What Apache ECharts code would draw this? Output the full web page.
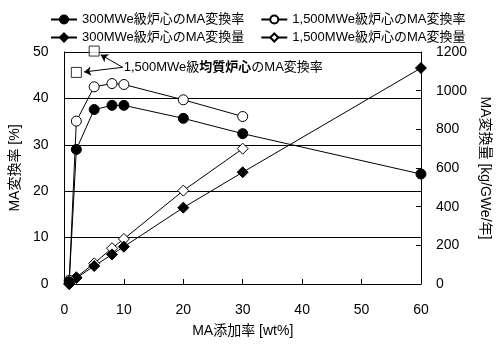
<!DOCTYPE html>
<html><head><meta charset="utf-8">
<script src="https://cdn.jsdelivr.net/npm/echarts@6/dist/echarts.min.js"></script>
<style>html,body{margin:0;padding:0;background:#fff}#c{width:500px;height:345px}</style>
</head><body><div id="c"></div>
<script>
const FONT = "Liberation Sans, Arial, 'Noto Sans CJK JP', sans-serif";
const xTicks = [0, 10, 20, 30, 40, 50, 60];
const names = ["300MWe級炉心のMA変換率", "1,500MWe級炉心のMA変換率", "300MWe級炉心のMA変換量", "1,500MWe級炉心のMA変換量"];
const x300 = [0.8, 2, 5, 8, 10, 20, 30, 60];
const rate300 = [0.5, 29, 37.6, 38.5, 38.5, 35.7, 32.4, 23.7];
const x1500 = [0.8, 2, 5, 8, 10, 20, 30];
const rate1500 = [0.8, 35.1, 42.5, 43.2, 43.0, 39.7, 36.1];
const amount300 = [0, 31, 93, 153, 193, 395, 578, 1117];
const amount1500 = [0, 35, 107, 185, 233, 483, 700];
const xUniform = [2, 5];
const rateUniform = [45.6, 50.2];
const annotText = ["1,500MWe級", "均質炉心", "のMA変換率"];
const annotAnchor = [9.8, 46.7];
const arrowEnds = [[6.1, 49.4], [3.3, 45.7]];

const pair = (xs, ys) => xs.map((x, i) => [x, ys[i]]);
const filled = { color: '#000', borderColor: '#000', borderWidth: 1 };
const open = { color: '#fff', borderColor: '#000', borderWidth: 1 };
const line = { color: '#000', width: 1 };

const chart = echarts.init(document.getElementById('c'));
chart.setOption({
  animation: false,
  textStyle: { fontFamily: FONT },
  legend: [
    { data: [names[0], names[1]], top: 8, left: 45, itemWidth: 26, itemHeight: 10, itemGap: 16,
      textStyle: { fontSize: 13, color: '#000', fontFamily: FONT } },
    { data: [names[2], names[3]], top: 26, left: 45, itemWidth: 26, itemHeight: 10, itemGap: 16,
      textStyle: { fontSize: 13, color: '#000', fontFamily: FONT } }
  ],
  grid: { left: 59, right: 75, top: 52, bottom: 61 },
  xAxis: {
    type: 'value', min: 0, max: 60, interval: 10,
    name: 'MA添加率 [wt%]', nameLocation: 'middle', nameGap: 40,
    nameTextStyle: { fontSize: 14, color: '#000' },
    axisLine: { lineStyle: { color: '#000' } },
    axisTick: { inside: true, length: 5, lineStyle: { color: '#000' } },
    axisLabel: { fontSize: 14, color: '#000', margin: 19 },
    splitLine: { show: false }
  },
  yAxis: [
    { type: 'value', min: 0, max: 50, interval: 10,
      name: 'MA変換率 [%]', nameLocation: 'middle', nameGap: 36, nameRotate: 90,
      nameTextStyle: { fontSize: 14, color: '#000' },
      axisLine: { show: true, lineStyle: { color: '#000' } },
      axisTick: { show: false },
      axisLabel: { fontSize: 14, color: '#000', margin: 16 },
      splitLine: { show: true, lineStyle: { color: '#000', width: 1 } } },
    { type: 'value', min: 0, max: 1200, interval: 200, position: 'right',
      name: 'MA変換量 [kg/GWe/年]', nameLocation: 'middle', nameGap: 56, nameRotate: -90,
      nameTextStyle: { fontSize: 14, color: '#000' },
      axisLine: { show: true, lineStyle: { color: '#000' } },
      axisTick: { show: true, inside: true, length: 5, lineStyle: { color: '#000' } },
      axisLabel: { fontSize: 14, color: '#000', margin: 15, formatter: v => String(v) },
      splitLine: { show: false } }
  ],
  series: [
    { name: names[3], type: 'line', yAxisIndex: 1, data: pair(x1500, amount1500),
      symbol: 'diamond', symbolSize: 11, itemStyle: open, lineStyle: line, clip: false },
    { name: names[2], type: 'line', yAxisIndex: 1, data: pair(x300, amount300),
      symbol: 'diamond', symbolSize: 11, itemStyle: filled, lineStyle: line, clip: false },
    { name: names[1], type: 'line', yAxisIndex: 0, data: pair(x1500, rate1500),
      symbol: 'circle', symbolSize: 10, itemStyle: open, lineStyle: line, clip: false },
    { name: names[0], type: 'line', yAxisIndex: 0, data: pair(x300, rate300),
      symbol: 'circle', symbolSize: 10, itemStyle: filled, lineStyle: line, clip: false },
    { name: 'uniform', type: 'scatter', yAxisIndex: 0, data: pair(xUniform, rateUniform),
      symbol: 'rect', symbolSize: 10, itemStyle: open, z: 5, clip: false,
      markLine: {
        silent: true, symbol: ['none', 'arrow'], symbolSize: 7,
        lineStyle: { color: '#000', width: 1, type: 'solid' },
        label: { show: false },
        data: arrowEnds.map(e => [{ coord: annotAnchor }, { coord: e }])
      },
      markPoint: {
        symbol: 'circle', symbolSize: 0,
        data: [{ coord: annotAnchor,
          label: { show: true, position: 'right', distance: 1,
            formatter: '{a|' + annotText[0] + '}{b|' + annotText[1] + '}{a|' + annotText[2] + '}',
            rich: { a: { fontSize: 13, color: '#000', fontFamily: FONT },
                    b: { fontSize: 13, color: '#000', fontWeight: 'bold', fontFamily: FONT } } } }]
      } }
  ]
});
</script></body></html>
